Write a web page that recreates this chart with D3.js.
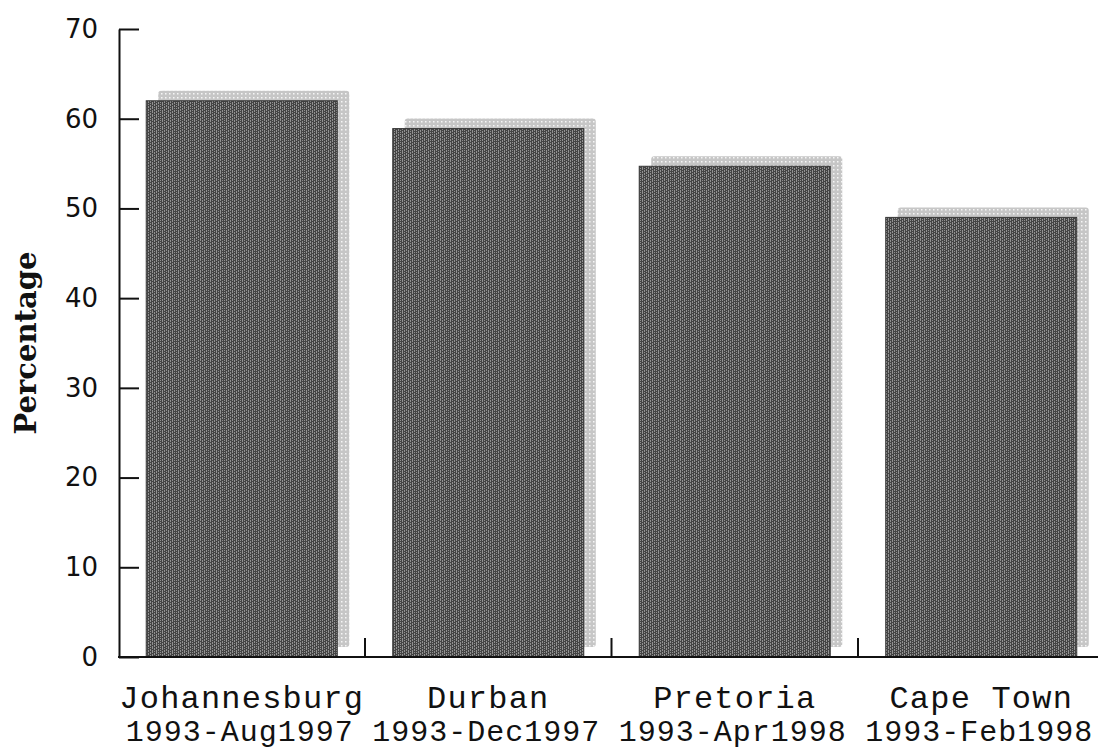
<!DOCTYPE html>
<html>
<head>
<meta charset="utf-8">
<script src="https://cdn.jsdelivr.net/npm/d3@7"></script>
<style>
  html, body { margin: 0; padding: 0; background: #fff; }
  svg { display: block; }
</style>
</head>
<body>
<svg id="chart" width="1098" height="749"></svg>
<script>
// Share of residents (%) per city and survey period
const cities = ["Johannesburg", "Durban", "Pretoria", "Cape Town"];
const periodStart = ["1993-Aug", "1993-Dec", "1993-Apr", "1993-Feb"];
const periodEnd = ["1997", "1997", "1998", "1998"];
const values = [62.0, 58.9, 54.7, 49.0];
const yTicks = [0, 10, 20, 30, 40, 50, 60, 70];
const yTitle = "Percentage";

const svg = d3.select("#chart");
const defs = svg.append("defs");

// Dithered dark fill for the bars (maze-like pixel texture)
const maze = [
  "#.#.#...#.#.#...",
  "..#...#...#...#.",
  "#...#.#.#...#.#.",
  "..#.#...#.#.#...",
  "#.#...#.#...#.#.",
  "....#.#...#.#...",
  "#.#.#...#.#...#.",
  "..#...#.#...#.#."
];
const barPat = defs.append("pattern")
  .attr("id", "barFill")
  .attr("patternUnits", "userSpaceOnUse")
  .attr("width", 16).attr("height", 8);
barPat.append("rect").attr("width", 16).attr("height", 8).attr("fill", "#444");
maze.forEach((row, r) => {
  row.split("").forEach((ch, c) => {
    if (ch === "#") {
      barPat.append("rect").attr("x", c).attr("y", r)
        .attr("width", 1).attr("height", 1)
        .attr("fill", "#929292").attr("shape-rendering", "crispEdges");
    }
  });
});

// Light dotted fill for the drop shadows
const shPat = defs.append("pattern")
  .attr("id", "shadowFill")
  .attr("patternUnits", "userSpaceOnUse")
  .attr("width", 4).attr("height", 4);
shPat.append("rect").attr("width", 4).attr("height", 4).attr("fill", "#c6c6c6");
shPat.append("rect").attr("x", 1).attr("y", 1).attr("width", 1.5).attr("height", 1.5)
  .attr("fill", "#f6f6f6");

// Scales
const y = d3.scaleLinear().domain([0, 70]).range([657, 29]);
const x = d3.scaleBand().domain(cities)
  .range([118.5, 1104.5])
  .paddingInner(0.225)
  .paddingOuter(0.1125);
const bw = x.bandwidth();
const gap = x.step() * x.paddingInner() / 2;

const data = cities.map((c, i) => ({ city: c, v: values[i], from: periodStart[i], to: periodEnd[i] }));

// Shadows behind bars
svg.append("g").selectAll("rect")
  .data(data).join("rect")
  .attr("x", d => x(d.city) + 12)
  .attr("y", d => y(d.v) - 10)
  .attr("width", bw)
  .attr("height", d => y(0) - y(d.v))
  .attr("rx", 3)
  .attr("fill", "url(#shadowFill)");

// Bars
svg.append("g").selectAll("rect")
  .data(data).join("rect")
  .attr("x", d => x(d.city))
  .attr("y", d => y(d.v))
  .attr("width", bw)
  .attr("height", d => y(0) - y(d.v))
  .attr("fill", "url(#barFill)")
  .attr("stroke", "#383838")
  .attr("stroke-width", 1);

// Y axis with inward ticks
const yAxis = svg.append("g")
  .attr("transform", "translate(119,0)")
  .call(d3.axisLeft(y).tickValues(yTicks).tickSizeInner(-20).tickSizeOuter(0).tickPadding(21));
yAxis.select(".domain").attr("stroke", "#111").attr("stroke-width", 2);
yAxis.selectAll(".tick line").attr("stroke", "#111").attr("stroke-width", 2);
yAxis.selectAll(".tick text")
  .attr("fill", "#111")
  .style("font-family", "'DejaVu Sans', sans-serif")
  .style("font-size", "26px");

// X axis baseline and category separators
svg.append("line")
  .attr("x1", 118).attr("x2", 1098)
  .attr("y1", y(0)).attr("y2", y(0))
  .attr("stroke", "#111").attr("stroke-width", 2);
svg.append("g").selectAll("line")
  .data(cities.slice(0, -1)).join("line")
  .attr("x1", c => x(c) + bw + gap).attr("x2", c => x(c) + bw + gap)
  .attr("y1", y(0)).attr("y2", y(0) - 19)
  .attr("stroke", "#111").attr("stroke-width", 2);

// Category labels: city name over survey period
const monoFont = "'Liberation Mono', 'Courier New', monospace";
const lbl = svg.append("g").attr("fill", "#111")
  .style("font-family", monoFont);
lbl.selectAll("text.city")
  .data(data).join("text")
  .attr("class", "city")
  .attr("x", d => x(d.city) + bw / 2)
  .attr("y", 708)
  .attr("text-anchor", "middle")
  .style("font-size", "32px")
  .style("letter-spacing", "1.2px")
  .text(d => d.city);

// Period line: start month and end year run together
lbl.selectAll("text.period")
  .data(data).join("text")
  .attr("class", "period")
  .attr("x", d => x(d.city) + bw / 2 - 2)
  .attr("y", 741)
  .attr("text-anchor", "middle")
  .style("font-size", "30px")
  .style("letter-spacing", "1px")
  .text(d => d.from + d.to);

// Y axis title
svg.append("text")
  .attr("transform", "translate(36,343) rotate(-90)")
  .attr("text-anchor", "middle")
  .attr("fill", "#111")
  .style("font-family", "'DejaVu Serif', serif")
  .style("font-weight", "bold")
  .style("font-size", "29px")
  .text(yTitle);
</script>
</body>
</html>
